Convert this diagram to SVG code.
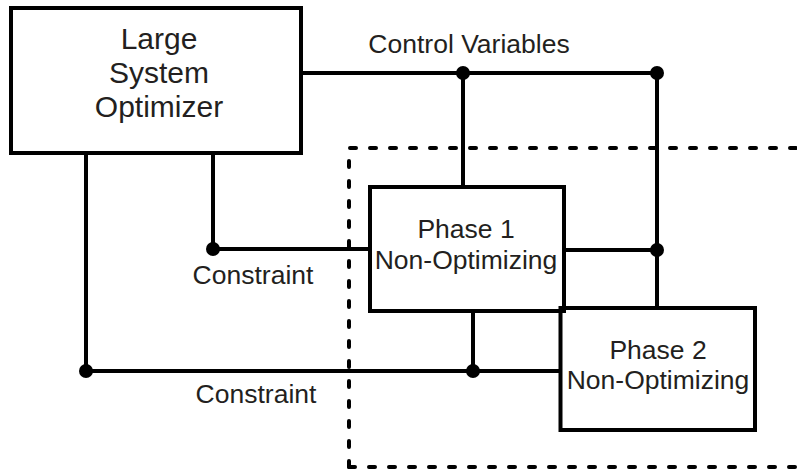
<svg xmlns="http://www.w3.org/2000/svg" width="797" height="473" viewBox="0 0 797 473">
<style>
.box{fill:#fff;stroke:#000;stroke-width:4}
.ln{fill:none;stroke:#000;stroke-width:4}
.dash{fill:none;stroke:#000;stroke-width:4;stroke-dasharray:6 14;stroke-linecap:round}
.dot{fill:#000}
text{font-family:"Liberation Sans",Arial,sans-serif;fill:#231f20;text-anchor:middle}
.big{font-size:30px}
.mid{font-size:26.5px}
.lbl{font-size:26.5px}
</style>
<rect width="797" height="473" fill="#fff"/>
<g id="boundary">
<path class="dash" d="M349 467 V148 H800"/>
<path class="dash" d="M349 467 H800"/>
</g>
<g id="connectors">
<path class="ln" d="M301 73 H657"/>
<path class="ln" d="M463 73 V187"/>
<path class="ln" d="M657 73 V308"/>
<path class="ln" d="M564 250 H657"/>
<path class="ln" d="M213 153 V249 H370"/>
<path class="ln" d="M86 153 V371 H561"/>
<path class="ln" d="M473 311 V371"/>
<circle class="dot" cx="463" cy="73" r="7"/>
<circle class="dot" cx="657" cy="73" r="7"/>
<circle class="dot" cx="657" cy="250" r="7"/>
<circle class="dot" cx="213" cy="249" r="7"/>
<circle class="dot" cx="86" cy="371" r="7"/>
<circle class="dot" cx="473" cy="371" r="7"/>
<text class="lbl" x="469" y="53">Control Variables</text>
<text class="lbl" x="253" y="284">Constraint</text>
<text class="lbl" x="256" y="403">Constraint</text>
</g>
<g id="optimizer">
<rect class="box" x="11" y="8" width="290" height="145"/>
<text class="big" x="159" y="49">Large</text>
<text class="big" x="159" y="83">System</text>
<text class="big" x="159" y="117">Optimizer</text>
</g>
<g id="phase1">
<rect class="box" x="370" y="187" width="194" height="124"/>
<text class="mid" x="466" y="238">Phase 1</text>
<text class="mid" x="466" y="269">Non-Optimizing</text>
</g>
<g id="phase2">
<rect class="box" x="560.5" y="308" width="194.5" height="122"/>
<path class="ln" d="M560.5 311 H564 V308"/>
<text class="mid" x="658" y="359">Phase 2</text>
<text class="mid" x="658" y="389">Non-Optimizing</text>
</g>
</svg>
